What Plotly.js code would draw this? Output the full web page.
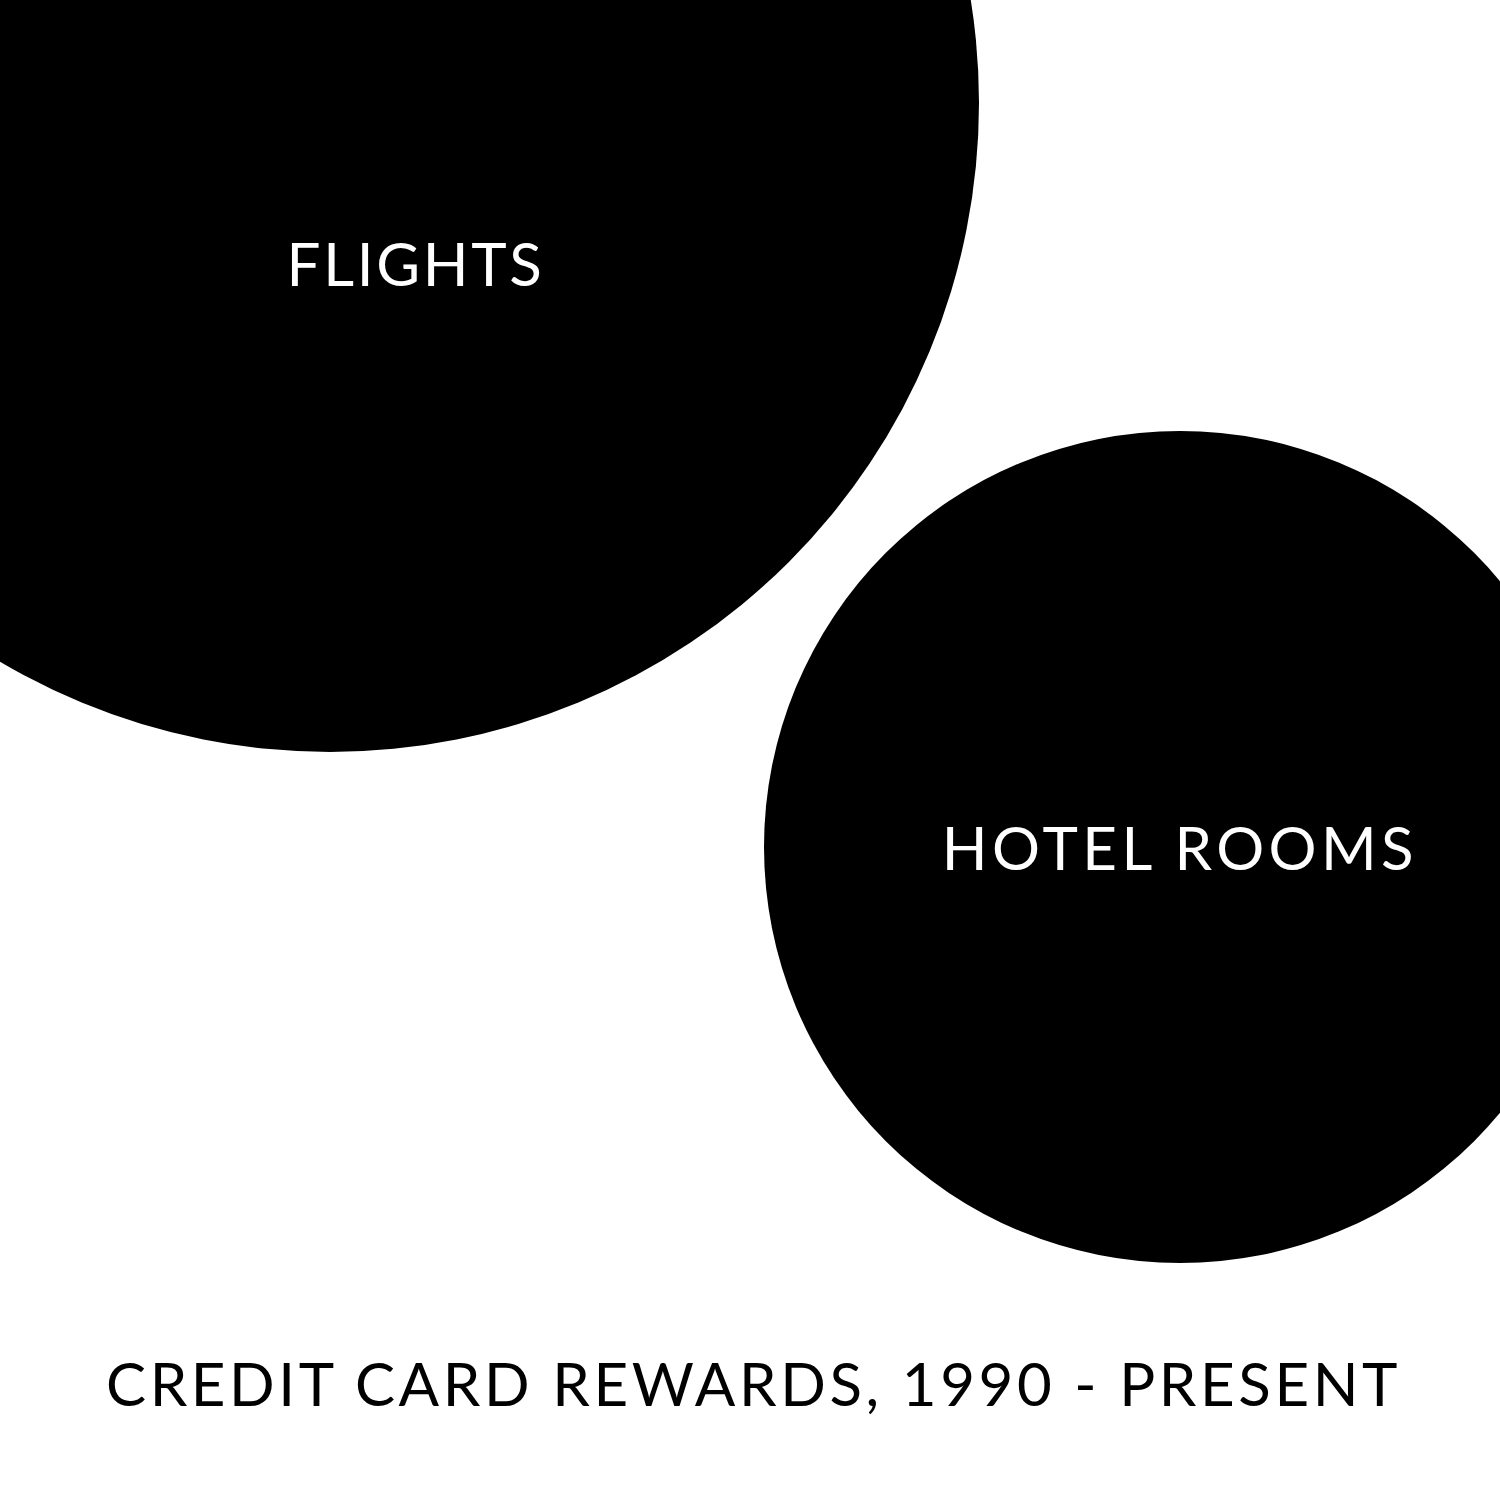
<!DOCTYPE html>
<html>
<head>
<meta charset="utf-8">
<script src="https://cdn.plot.ly/plotly-3.0.1.min.js"></script>
<style>
html,body{margin:0;padding:0;background:#fff;}
#chart{width:1500px;height:1500px;}
#chart .annotation[data-index="0"] text{letter-spacing:2.7px;}
#chart .annotation[data-index="1"] text{letter-spacing:4.4px;}
#chart .annotation[data-index="2"] text{letter-spacing:3.6px;}
</style>
</head>
<body>
<div id="chart"></div>
<script>
// Data
var categories = ['FLIGHTS', 'HOTEL ROOMS'];
var bubbleDiameters = [1298, 832];
var chartTitle = 'CREDIT CARD REWARDS, 1990 - PRESENT';

// Layout positions (pixel-like data coordinates)
var centerX = [330, 1180];
var centerY = [103, 847];
var labelX = [415, 1180];
var labelY = [263, 847];

var FONT = 'Lato, "Open Sans", sans-serif';

var trace = {
  type: 'scatter',
  mode: 'markers',
  x: centerX,
  y: centerY,
  text: categories,
  hoverinfo: 'text',
  marker: {
    size: bubbleDiameters,
    sizemode: 'diameter',
    color: '#000000',
    opacity: 1,
    line: {width: 0}
  },
  cliponaxis: true
};

var annotations = categories.map(function (c, i) {
  return {
    x: labelX[i], y: labelY[i], xref: 'x', yref: 'y',
    text: c, showarrow: false,
    xanchor: 'center', yanchor: 'middle',
    font: {family: FONT, size: 60, color: '#ffffff'}
  };
});
annotations.push({
  x: 753, y: 1383, xref: 'x', yref: 'y',
  text: chartTitle, showarrow: false,
  xanchor: 'center', yanchor: 'middle',
  font: {family: FONT, size: 60, color: '#000000'}
});

var layout = {
  width: 1500, height: 1500,
  margin: {l: 0, r: 0, t: 0, b: 0, pad: 0},
  paper_bgcolor: '#ffffff', plot_bgcolor: '#ffffff',
  showlegend: false,
  xaxis: {range: [0, 1500], visible: false, fixedrange: true},
  yaxis: {range: [1500, 0], visible: false, fixedrange: true},
  annotations: annotations
};

Plotly.newPlot('chart', [trace], layout, {displayModeBar: false, staticPlot: true});
</script>
</body>
</html>
